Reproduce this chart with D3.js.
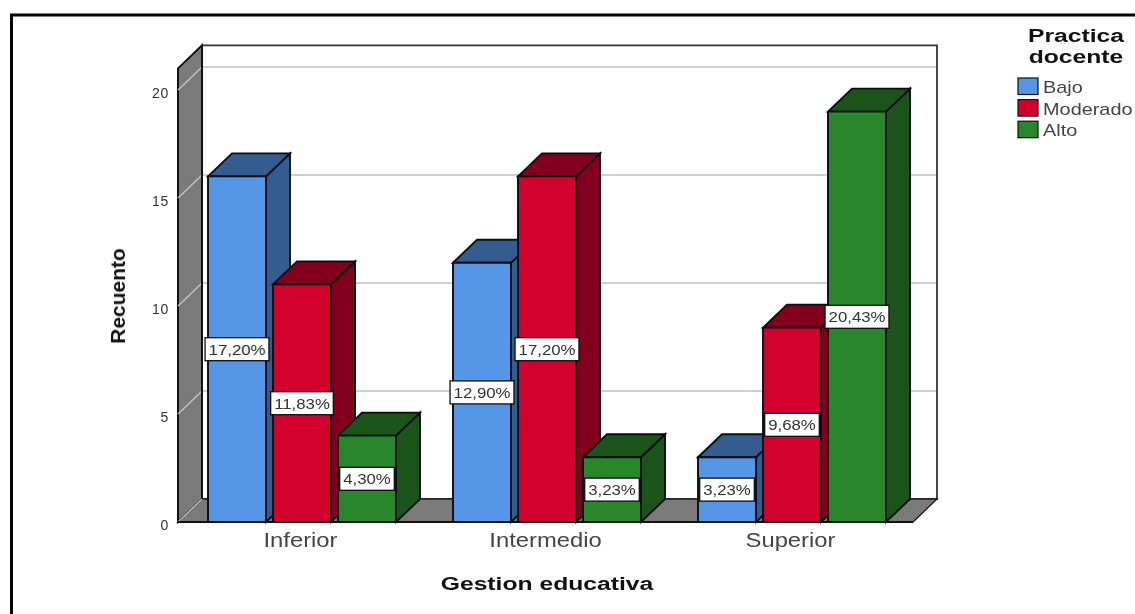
<!DOCTYPE html>
<html><head><meta charset="utf-8">
<script src="https://cdn.jsdelivr.net/npm/d3@7"></script>
<style>html,body{margin:0;padding:0;background:#fff}svg{display:block;filter:blur(0.4px)}text{font-family:"Liberation Sans",Arial,sans-serif}</style>
</head><body><svg id="c" width="1135" height="614"></svg>
<script>
const categories = ["Inferior","Intermedio","Superior"];
const seriesNames = ["Bajo","Moderado","Alto"];
const bajo = [16,12,3];
const moderado = [11,16,9];
const alto = [4,3,19];
const bajoPct = ["17,20%","12,90%","3,23%"];
const moderadoPct = ["11,83%","17,20%","9,68%"];
const altoPct = ["4,30%","3,23%","20,43%"];
const yTicks = [0,5,10,15,20];
const frontColors = ["#5596e6","#d3002d","#2a862a"];
const darkColors = ["#345c8f","#82001c","#1a541a"];

const values = [bajo,moderado,alto], pcts=[bajoPct,moderadoPct,altoPct];
const svg = d3.select("#c");
const dx = 24, dy = -23, LW = 1.9, ink = "#0a0f14";
const y = d3.scaleLinear().domain([0,21]).range([522,68.4]);
const xFloor = [178,913];
const x = d3.scaleBand().domain(categories).range([179.5,914.5]);
const xs = d3.scaleBand().domain(seriesNames).range([-94,94]).paddingInner(7/65).paddingOuter(0);
const line = d3.line();
function poly(g,pts,fill,stroke=ink,sw=LW){
  g.append("path").attr("d",line(pts)+"Z").attr("fill",fill).attr("stroke",stroke).attr("stroke-width",sw).attr("stroke-linejoin","miter");
}
// outer frame
svg.append("path").attr("d","M11.5,614V15H1135").attr("fill","none").attr("stroke","#000").attr("stroke-width",3);

// walls
const topY = y(21), base = y(0);
const [x0,x1] = xFloor;
const bg = svg.append("g");
poly(bg,[[x0+dx,topY+dy],[x1+dx,topY+dy],[x1+dx,base+dy],[x0+dx,base+dy]],"#fff","#333",1.8);
poly(bg,[[x0,topY],[x0+dx,topY+dy],[x0+dx,base+dy],[x0,base]],"#7a7a7a","#111",2);
poly(bg,[[x0,base],[x0+dx,base+dy],[x1+dx,base+dy],[x1,base]],"#7a7a7a","#222",1.4);
// gridlines
yTicks.forEach(t=>{
  if(t>0) bg.append("line").attr("x1",x0+dx+1).attr("x2",x1+dx-1).attr("y1",y(t)+dy).attr("y2",y(t)+dy).attr("stroke","#cfcfcf").attr("stroke-width",2);
  bg.append("line").attr("x1",x0).attr("x2",x0+dx).attr("y1",y(t)).attr("y2",y(t)+dy).attr("stroke","#c4c4c4").attr("stroke-width",1.4);
});
bg.append("line").attr("x1",x0+dx).attr("x2",x0+dx).attr("y1",topY+dy).attr("y2",base+dy).attr("stroke","#111").attr("stroke-width",2);
bg.append("line").attr("x1",x0).attr("x2",x1).attr("y1",base).attr("y2",base).attr("stroke","#111").attr("stroke-width",1.8);

// bars
const bars = svg.append("g");
categories.forEach((c,ci)=>{
  seriesNames.forEach((s,si)=>{
    const g = bars.append("g");
    const l = x(c)+x.bandwidth()/2+xs(s), w = xs.bandwidth(), r = l+w, t = y(values[si][ci]), b = base;
    poly(g,[[r,t],[r+dx,t+dy],[r+dx,b+dy],[r,b]],darkColors[si]);
    poly(g,[[l,t],[l+dx,t+dy],[r+dx,t+dy],[r,t]],darkColors[si]);
    poly(g,[[l,t],[r,t],[r,b],[l,b]],frontColors[si]);
  });
});
// value labels
const labels = svg.append("g");
const labelStretch = 1.12;
categories.forEach((c,ci)=>{
  seriesNames.forEach((s,si)=>{
    const cx = x(c)+x.bandwidth()/2+xs(s)+xs.bandwidth()/2, cy = y(values[si][ci]/2);
    const g = labels.append("g").attr("transform",`translate(${cx},${cy})`);
    const rect = g.append("rect").attr("y",-11.5).attr("height",23).attr("fill","#fff").attr("stroke",ink).attr("stroke-width",1.3);
    const txt = g.append("text").attr("y",5.5).attr("text-anchor","middle").attr("font-size",15).attr("fill","#333").attr("transform",`scale(${labelStretch},1)`).text(pcts[si][ci]);
    const w = txt.node().getComputedTextLength()*labelStretch+7;
    rect.attr("x",-w/2).attr("width",w);
  });
});
// axes text
const yAxis = d3.axisLeft(y).tickValues(yTicks).tickSize(0).tickPadding(9);
const ya = svg.append("g").attr("transform",`translate(${x0},3.5)`).call(yAxis);
ya.select(".domain").remove();
ya.selectAll("text").attr("font-size",14).attr("font-family",'"Liberation Sans"').attr("fill","#333").attr("letter-spacing",0.7);
const xAxis = d3.axisBottom(x).tickSize(0).tickPadding(11);
const xa = svg.append("g").attr("transform",`translate(-1.5,${base})`).call(xAxis);
xa.select(".domain").remove();
xa.selectAll("text").attr("font-size",20).attr("font-family",'"Liberation Sans"').attr("fill","#444").attr("transform","scale(1.19,1)");
svg.append("text").attr("transform","translate(547,590) scale(1.3,1)").attr("text-anchor","middle").attr("font-size",19).attr("font-weight","bold").attr("fill","#111").text("Gestion educativa");
svg.append("text").attr("transform","translate(125,296) rotate(-90) scale(1.05,1)").attr("text-anchor","middle").attr("font-size",20).attr("font-weight","bold").attr("fill","#111").text("Recuento");
// legend
["Practica","docente"].forEach((t,i)=>svg.append("text").attr("transform",`translate(1076,${42+i*21}) scale(1.3,1)`).attr("text-anchor","middle").attr("font-size",19).attr("font-weight","bold").attr("fill","#111").text(t));
seriesNames.forEach((s,i)=>{
  const ly = 78+i*21.6;
  svg.append("rect").attr("x",1018).attr("y",ly).attr("width",20).attr("height",16.5).attr("fill",frontColors[i]).attr("stroke",ink).attr("stroke-width",1.2);
  svg.append("text").attr("transform",`translate(1043,${ly+15}) scale(1.17,1)`).attr("font-size",17).attr("fill","#444").text(s);
});
</script></body></html>
